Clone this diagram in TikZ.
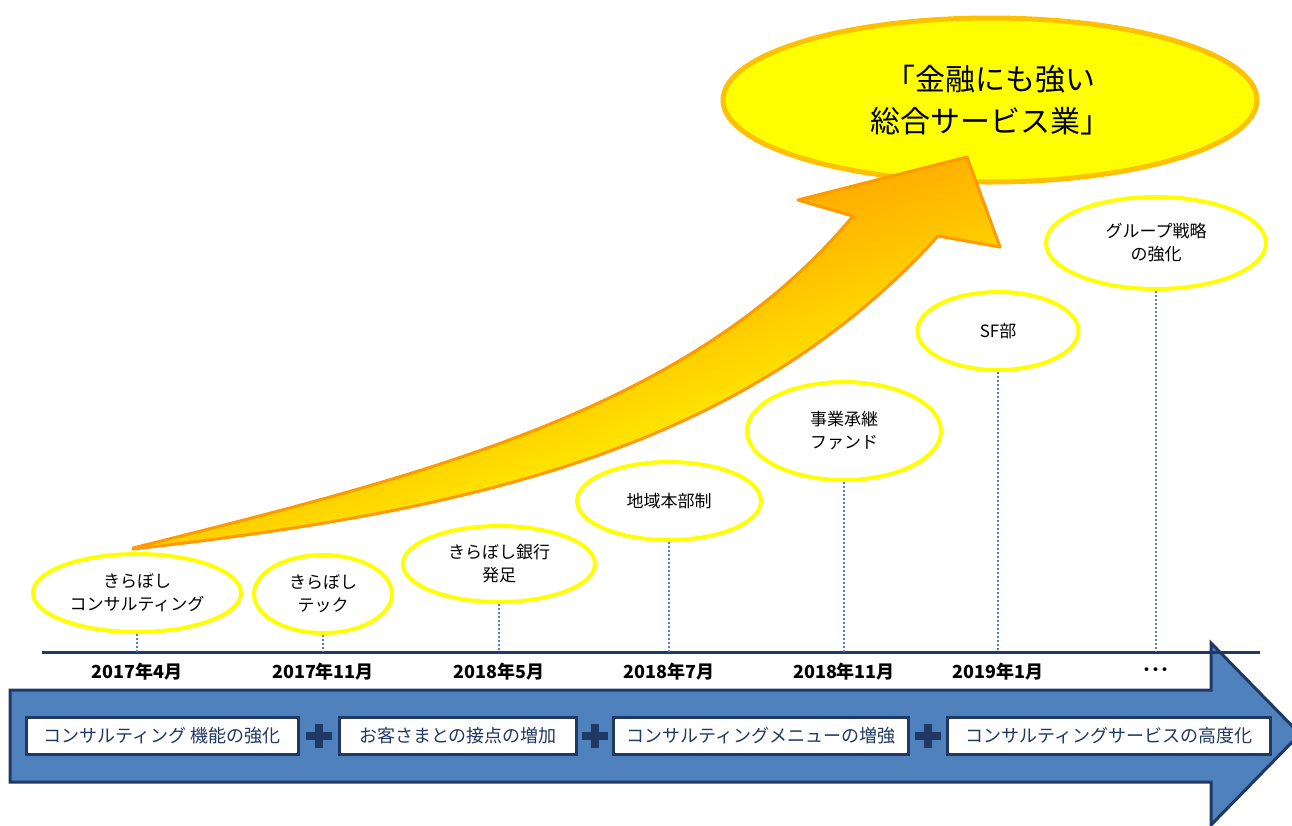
\documentclass[tikz,border=0pt]{standalone}
\usepackage{fontspec}
\usepackage{xcolor}
\newfontfamily\jpfont{Noto Sans CJK JP}
\usetikzlibrary{shapes.geometric,positioning,calc}

\definecolor{navyblue}{HTML}{1F3864}
\definecolor{steelblue}{HTML}{4F81BD}
\definecolor{deeporange}{HTML}{FF9900}
\definecolor{goldorange}{HTML}{FFC000}
\definecolor{brightyellow}{HTML}{FFFF00}

\pgfdeclareverticalshading{growth}{100bp}{color(0bp)=(brightyellow); color(32bp)=(brightyellow); color(50bp)=(goldorange); color(63bp)=(deeporange); color(100bp)=(deeporange)}

\tikzset{
	event/.style={ellipse, draw=brightyellow, line width=4pt, fill=white, inner sep=0pt, align=center, font=\jpfont\fontsize{17}{23}\selectfont},
	guide/.style={steelblue, line width=2.2pt, dash pattern=on 2pt off 2pt},
	datelabel/.style={font=\jpfont\bfseries\fontsize{18}{20}\selectfont},
	theme/.style={rectangle, draw=navyblue, line width=3pt, fill=white, text=navyblue, minimum height=37pt, inner sep=0pt, font=\jpfont\fontsize{18}{20}\selectfont},
	plusmark/.style={navyblue, line width=8pt},
}

\begin{document}
\begin{tikzpicture}[x=1pt,y=-1pt]
		\useasboundingbox (0,0) rectangle (1292,825);
		
		\draw[navyblue, line width=3pt, fill=steelblue] (10,690) -- (1211,690) -- (1211,643) -- (1300,734) -- (1211,825) -- (1211,782) -- (10,782) -- cycle;  % blue arrow
		
		\node[theme, minimum width=272pt] (t1) at (162,736) {コンサルティング 機能の強化};
		\node[theme, minimum width=237pt] (t2) at (458,736) {お客さまとの接点の増加};
		\node[theme, minimum width=295pt] (t3) at (761,736) {コンサルティングメニューの増強};
		\node[theme, minimum width=323pt] (t4) at (1109,736) {コンサルティングサービスの高度化};
		
		\coordinate (p1) at ($(t1.east)!0.5!(t2.west)$);
		\coordinate (p2) at ($(t2.east)!0.5!(t3.west)$);
		\coordinate (p3) at ($(t3.east)!0.5!(t4.west)$);
		\foreach \p in {p1,p2,p3}
			\draw[plusmark] ([xshift=-13pt]\p) -- ([xshift=13pt]\p) ([yshift=-12pt]\p) -- ([yshift=12pt]\p);  % plus
		
		\coordinate (tl) at (42,652);
		\coordinate (tr) at (1260,652);
		\draw[navyblue, line width=3pt] (tl) -- (tr);  % time line
		
		\node[event, minimum width=208pt, minimum height=78pt] (e1) at (137,593) {きらぼし\\コンサルティング};
		\node[event, minimum width=138pt, minimum height=78pt] (e2) at (323,594) {きらぼし\\テック};
		\node[event, minimum width=192pt, minimum height=76pt] (e3) at (499,564) {きらぼし銀行\\発足};
		\node[event, minimum width=184pt, minimum height=78pt] (e4) at (669,501) {地域本部制};
		\node[event, minimum width=194pt, minimum height=98pt] (e5) at (844,431) {事業承継\\ファンド};
		\node[event, minimum width=161pt, minimum height=78pt] (e6) at (998,331) {SF部};
		\node[event, minimum width=220pt, minimum height=92pt] (e7) at (1156,243) {グループ戦略\\の強化};
		
		\foreach \e in {e1,e2,e3,e4,e5,e6,e7}
			\draw[guide] (\e.south) -- (\e.south |- tl);
		
		\coordinate (dl) at (0,672);
		\foreach \e/\d in {e1/2017年4月,e2/2017年11月,e3/2018年5月,e4/2018年7月,e5/2018年11月,e6/2019年1月,e7/･･･}
			\node[datelabel] (d\e) at (\e.south |- dl) {\d};
		
		\node[ellipse, draw=goldorange, fill=brightyellow, line width=5pt, minimum width=534pt, minimum height=164pt, align=center, font=\jpfont\fontsize{30}{42}\selectfont] (goal) at (990,100) {「金融にも強い\\総合サービス業」};
		
		\draw[deeporange, line width=3pt, line join=round, shading=growth, shading angle=20] (133,548) .. controls (433,473) and (693,408) .. (853,216) -- (798,200) -- (967,157) -- (1000,247) -- (938,236) .. controls (748,445) and (483,510) .. (133,549) -- cycle;  % growth arrow
\end{tikzpicture}
\end{document}
